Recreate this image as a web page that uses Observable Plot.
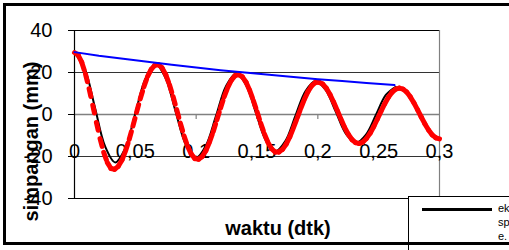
<!DOCTYPE html>
<html>
<head>
<meta charset="utf-8">
<script src="https://cdn.jsdelivr.net/npm/d3@7"></script>
<script src="https://cdn.jsdelivr.net/npm/@observablehq/plot@0.6"></script>
<style>
  html, body { margin: 0; padding: 0; background: #fff; overflow: hidden; }
  #wrap { position: relative; width: 509px; height: 250px; overflow: hidden; font-family: Arial, "Liberation Sans", sans-serif; }
  #frame { position: absolute; left: 3px; top: 3px; width: 600px; height: 236px; border: 3px solid #000; pointer-events: none; }
  #legend { position: absolute; left: 408px; top: 196px; width: 140px; height: 60px; border: 1px solid #000; background: #fff; }
  #legend .sw { position: absolute; left: 13px; top: 11px; width: 70px; height: 3px; background: #000; }
  #legend .lab { position: absolute; left: 89px; top: 4px; font-size: 11px; line-height: 14px; color: #000; }
</style>
</head>
<body>
<div id="wrap">
  <div id="chart"></div>
  <div id="legend"><div class="sw"></div><div class="lab" id="leglab"></div></div>
  <div id="frame"></div>
</div>
<script>
// ---- data ----
const xTicks = [0, 0.05, 0.1, 0.15, 0.2, 0.25, 0.3];
const xTickLabels = ["0", "0,05", "0,1", "0,15", "0,2", "0,25", "0,3"];
const yTicks = [40, 20, 0, -20, -40];
const yTickLabels = ["40", "20", "0", "-20", "-40"];
const xTitle = "waktu (dtk)";
const yTitle = "simpangan (mm)";
const legendLines = ["ek", "sp", "e."];

// red (dashed, thick) series, sampled every 0.003 s
const redTimes = d3.range(101).map(i => +(i * 0.003).toFixed(3));
const redValues = [
  29.5, 28.3, 24.8, 19.3, 12.3, 4.4, -3.8, -11.5, -18.0, -22.9,
  -25.7, -26.1, -24.7, -21.7, -17.3, -11.8, -5.5, 1.0, 7.4, 13.1,
  18.0, 21.5, 23.4, 23.7, 22.2, 19.0, 14.3, 8.6, 2.3, -4.1,
  -10.1, -15.2, -18.9, -21.0, -21.3, -20.0, -17.2, -13.1, -8.2, -2.6,
  3.0, 8.4, 12.9, 16.4, 18.5, 19.0, 17.9, 15.4, 11.5, 6.7,
  1.4, -4.1, -9.1, -13.3, -16.3, -17.9, -17.9, -16.6, -14.1, -10.6,
  -6.3, -1.7, 3.0, 7.3, 11.0, 13.7, 15.2, 15.4, 14.5, 12.5,
  9.5, 5.9, 1.9, -2.2, -6.1, -9.4, -11.9, -13.4, -13.8, -13.1,
  -11.4, -8.9, -5.7, -2.1, 1.6, 5.1, 8.2, 10.6, 12.1, 12.6,
  12.1, 10.7, 8.4, 5.5, 2.2, -1.2, -4.5, -7.4, -9.7, -11.1,
  -11.6
];

// black (thin) series
const blackTimes = [
  0, 0.0084, 0.0168, 0.0251, 0.0335, 0.0418, 0.05, 0.0583, 0.0665,
  0.0748, 0.083, 0.0913, 0.0995, 0.1079, 0.1163, 0.1246, 0.133,
  0.141, 0.149, 0.157, 0.165, 0.1733, 0.1815, 0.1898, 0.198,
  0.2064, 0.2148, 0.2231, 0.2315, 0.2396, 0.2478, 0.2559, 0.264
];
const blackValues = [
  29.5, 21.8, 3.35, -15.1, -22.8, -15.9, 0.6, 17.1, 24.0,
  17.4, 1.6, -14.2, -20.8, -14.9, -0.65, 13.6, 19.5,
  14.1, 1.0, -12.1, -17.5, -12.6, -0.75, 11.1, 16.0,
  11.7, 1.25, -9.2, -13.5, -9.6, -0.15, 9.3, 13.2
];

// blue envelope
const blueTimes = [0, 0.02, 0.04, 0.06, 0.08, 0.1, 0.12, 0.14, 0.16, 0.18, 0.2, 0.22, 0.24, 0.263];
const blueValues = [29.7, 28.0, 26.6, 25.1, 23.7, 22.4, 21.1, 20.0, 18.9, 17.8, 16.8, 15.9, 15.0, 14.0];

// ---- build tables ----
const red = redTimes.map((t, i) => ({t, v: redValues[i]}));
const redSegs = red.slice(1).map((d, i) => ({t1: red[i].t, v1: red[i].v, t2: d.t, v2: d.v}));
const black = blackTimes.map((t, i) => ({t, v: blackValues[i]}));
const blue = blueTimes.map((t, i) => ({t, v: blueValues[i]}));

const font = "Arial, 'Liberation Sans', sans-serif";

const chart = Plot.plot({
  width: 509,
  height: 250,
  marginLeft: 74,
  marginRight: 70,
  marginTop: 30,
  marginBottom: 52,
  style: {fontFamily: font, fontSize: "20px", color: "#000", background: "transparent", overflow: "visible"},
  x: {domain: [0, 0.3], axis: null},
  y: {
    domain: [-40, 40],
    ticks: yTicks,
    tickSize: 6,
    tickPadding: 16,
    tickFormat: d => yTickLabels[yTicks.indexOf(d)],
    label: null
  },
  marks: [
    Plot.ruleY([20, -20], {stroke: "#333", strokeWidth: 1.2}),
    Plot.ruleY([0], {stroke: "#808080", strokeWidth: 1.5}),
    Plot.ruleY([40, -40], {stroke: "#000", strokeWidth: 1.2}),
    Plot.ruleX([0], {stroke: "#000", strokeWidth: 1.2}),
    Plot.ruleX([0.3], {stroke: "#808080", strokeWidth: 1.2}),
    Plot.ruleX(xTicks.slice(1, -1), {x: d => d, y1: 0, y2: -2.4, stroke: "#808080", strokeWidth: 1.2}),
    Plot.text(xTicks, {x: d => d, y: -40, dy: -47, text: (d, i) => xTickLabels[i], fontSize: 20, fill: "#000"}),
    Plot.line(black, {x: "t", y: "v", curve: "catmull-rom", stroke: "#000", strokeWidth: 2}),
    Plot.link(redSegs, {x1: "t1", y1: "v1", x2: "t2", y2: "v2", stroke: "#ff0000", strokeWidth: 5, strokeDasharray: "8,11", strokeLinecap: "round"}),
    Plot.line(blue, {x: "t", y: "v", stroke: "#0000ff", strokeWidth: 2}),
    Plot.text([yTitle], {frameAnchor: "left", dx: -43, dy: 27, rotate: -90, textAnchor: "middle", lineAnchor: "middle", fontWeight: "bold", fontSize: 20, fill: "#000"}),
    Plot.text([xTitle], {frameAnchor: "bottom", dx: 21, dy: 30, textAnchor: "middle", lineAnchor: "middle", fontWeight: "bold", fontSize: 20, fill: "#000"})
  ]
});
document.getElementById("chart").appendChild(chart);
document.getElementById("leglab").innerHTML = legendLines.join("<br>");
</script>
</body>
</html>
